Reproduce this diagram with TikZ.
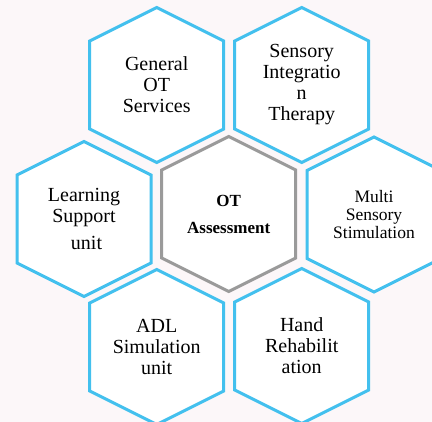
\documentclass[tikz,border=0pt]{standalone}
\usepackage{fontspec}
\setmainfont{Liberation Serif}
\usetikzlibrary{calc}
\definecolor{hexblue}{HTML}{43C0EE}
\definecolor{hexgray}{HTML}{9A9A9A}
\definecolor{paper}{HTML}{FCF7F9}
\newcommand{\hexcell}[2]{%
  \draw[#2] ($(#1)+(0,-77.5)$) -- ++(67,33.5) -- ++(0,88) -- ++(-67,33.5) -- ++(-67,-33.5) -- ++(0,-88) -- cycle;
  }

\begin{document}
\begin{tikzpicture}[x=1pt,y=-1pt,
    outer/.style={draw=hexblue,line width=3pt,fill=white,line join=miter},
    inner/.style={draw=hexgray,line width=3pt,fill=white,line join=miter},
    celltext/.style={align=center,font=\fontsize{20}{21}\selectfont},
    smalltext/.style={align=center,font=\fontsize{17.5}{18}\selectfont},
    coretext/.style={align=center,font=\fontsize{17}{27}\selectfont\bfseries}]
    \fill[paper] (0,0) rectangle (432,422);
    \useasboundingbox (0,0) rectangle (432,422);

    \coordinate (gen) at (156.7,85);
    \coordinate (sen) at (301.7,85);
    \coordinate (lsu) at (84,219);
    \coordinate (ota) at (228.7,214);
    \coordinate (mss) at (374,214.5);
    \coordinate (adl) at (156.7,347);
    \coordinate (hnd) at (301.7,346);

    \hexcell{gen}{outer}
    \hexcell{sen}{outer}
    \hexcell{lsu}{outer}
    \hexcell{mss}{outer}
    \hexcell{adl}{outer}
    \hexcell{hnd}{outer}
    \hexcell{ota}{inner}

    \node[celltext] (gentext) at (gen) {General\\OT\\Services};
    \node[celltext] (sentext) at (sen) {Sensory\\Integratio\\n\\Therapy};
    \node[celltext] (lsutext) at (lsu) {Learning\\Support\\[6pt]\hspace{5pt}unit};
    \node[coretext] (otatext) at (ota) {OT\\Assessment};
    \node[smalltext] (msstext) at (mss) {Multi\\Sensory\\Stimulation};
    \node[celltext] (adltext) at (adl) {ADL\\Simulation\\unit};
    \node[celltext] (hndtext) at (hnd) {Hand\\Rehabilit\\ation};
\end{tikzpicture}
\end{document}
